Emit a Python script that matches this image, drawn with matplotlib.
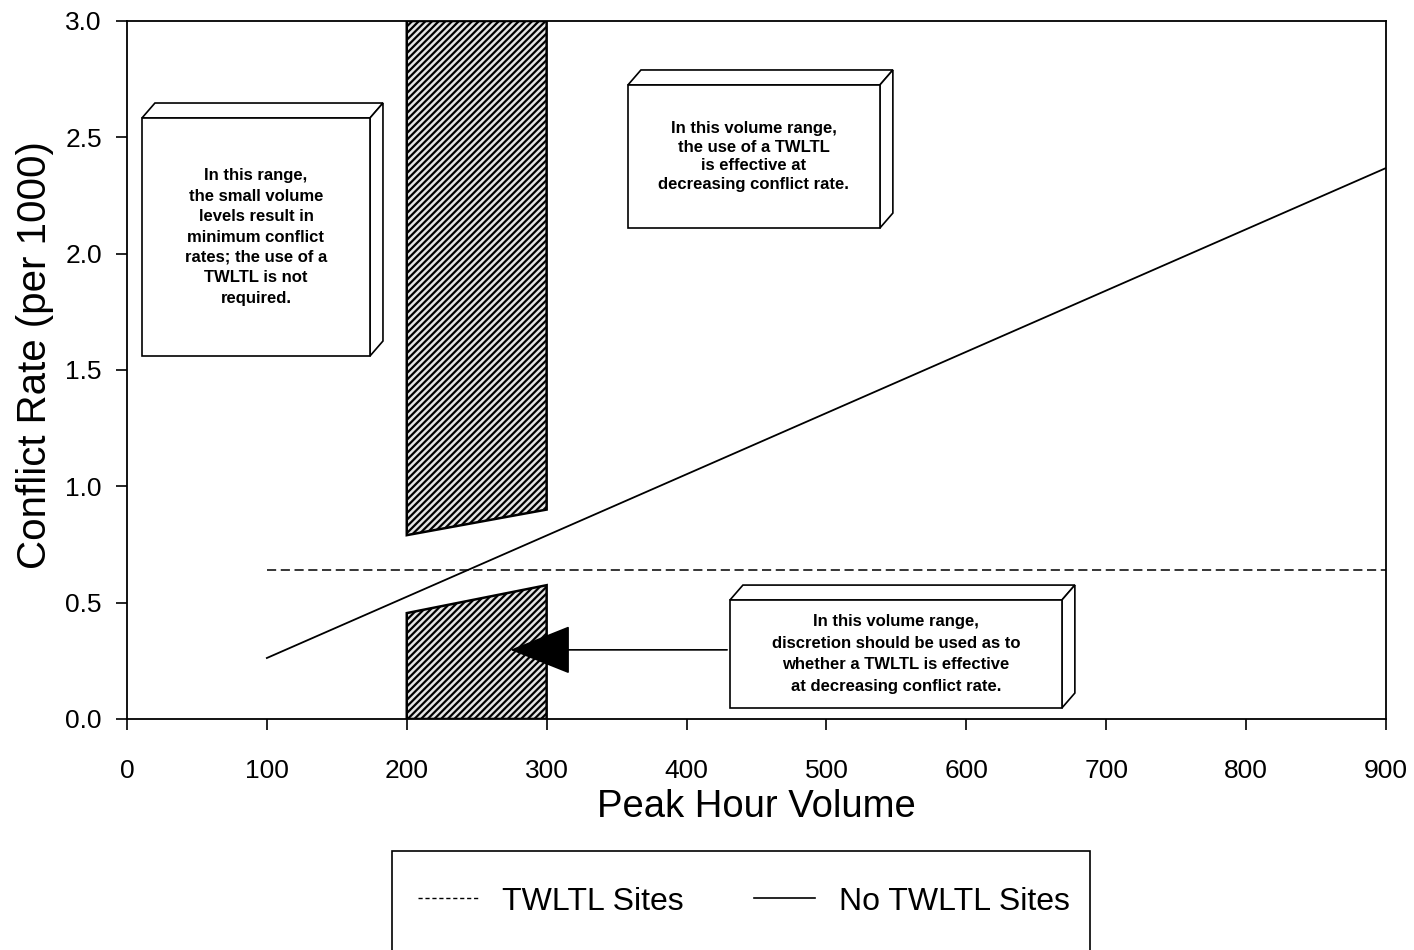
import numpy as np
import matplotlib.pyplot as plt
from matplotlib.patches import Polygon, Rectangle
from matplotlib.lines import Line2D

plt.rcParams['font.family'] = ['Liberation Sans', 'DejaVu Sans']
plt.rcParams['hatch.linewidth'] = 1.6

# regression lines (conflict rate vs peak hour volume)
vol = [100, 900]
rate_twltl = [0.64, 0.64]
rate_no_twltl = [0.262, 2.368]

# shaded ranges
upper_x = [200, 300, 300, 200]
upper_y = [0.79, 0.90, 3.0, 3.0]
lower_x = [200, 300, 300, 200]
lower_y = [0.0, 0.0, 0.575, 0.455]

box_notes = [
    (10.7, 1.56, 173.7, 2.583,
     "In this range,\nthe small volume\nlevels result in\nminimum conflict\nrates; the use of a\nTWLTL is not\nrequired.", 1.45),
    (358.1, 2.11, 538.2, 2.725,
     "In this volume range,\nthe use of a TWLTL\nis effective at\ndecreasing conflict rate.", 1.28),
    (431.0, 0.047, 668.3, 0.511,
     "In this volume range,\ndiscretion should be used as to\nwhether a TWLTL is effective\nat decreasing conflict rate.", 1.55),
]

fig = plt.figure(figsize=(14.14, 9.5), dpi=100)
ax = fig.add_axes([0.0898, 0.2432, 0.8904, 0.7347])
ax.set_xlim(0, 900)
ax.set_ylim(0, 3.0)

ax.plot(vol, rate_twltl, color='black', lw=1.1, ls=(0, (6, 3)))
ax.plot(vol, rate_no_twltl, color='black', lw=1.3)

for xs, ys in [(upper_x, upper_y), (lower_x, lower_y)]:
    ax.add_patch(Polygon(list(zip(xs, ys)), closed=True, facecolor='#e4e4e4',
                         edgecolor='black', hatch='/////', lw=1.8, zorder=2))

# pixel -> data conversion for the 3d box depth
ax_w = 0.8904 * 1414
ax_h = 0.7347 * 950
dpx, dpy = 13, 15
ddx = dpx * 900 / ax_w
ddy = dpy * 3.0 / ax_h

for x0, y0, x1, y1, txt, ls in box_notes:
    top = [(x0, y1), (x1, y1), (x1 + ddx, y1 + ddy), (x0 + ddx, y1 + ddy)]
    side = [(x1, y0), (x1 + ddx, y0 + ddy), (x1 + ddx, y1 + ddy), (x1, y1)]
    for pts in (top, side):
        ax.add_patch(Polygon(pts, closed=True, facecolor='white',
                             edgecolor='black', lw=1.2, zorder=4))
    ax.add_patch(Rectangle((x0, y0), x1 - x0, y1 - y0, facecolor='white',
                           edgecolor='black', lw=1.2, zorder=4))
    ax.text((x0 + x1) / 2, (y0 + y1) / 2, txt, ha='center', va='center',
            fontsize=12, fontweight='bold', linespacing=ls, zorder=5)

ax.annotate('', xy=(272, 0.297), xytext=(431, 0.297),
            arrowprops=dict(arrowstyle='-|>,head_length=4.0,head_width=1.6',
                            color='black', lw=1.2, mutation_scale=10),
            zorder=3)

ax.set_xticks(np.arange(0, 901, 100))
ax.set_yticks(np.arange(0, 3.01, 0.5))
ax.set_yticklabels([f'{v:.1f}' for v in np.arange(0, 3.01, 0.5)])
ax.tick_params(direction='out', length=8, width=1.2, labelsize=19, pad=10)
ax.tick_params(axis='x', pad=21)
for s in ax.spines.values():
    s.set_linewidth(1.3)
ax.set_xlabel('Peak Hour Volume', fontsize=27.5, labelpad=4)
ax.set_ylabel('Conflict Rate (per 1000)', fontsize=29)
ax.yaxis.set_label_coords(-0.058, 0.521)

# legend box
fig.patches.append(Rectangle((0.2772, -0.01), 0.4937, 0.1142, transform=fig.transFigure,
                             facecolor='none', edgecolor='black', lw=1.2))
handles = [Line2D([], [], color='black', lw=1.0, ls=(0, (3, 2))),
           Line2D([], [], color='black', lw=1.2)]
fig.legend(handles, ['TWLTL Sites', 'No TWLTL Sites'], loc='center',
           bbox_to_anchor=(0.526, 0.051), ncol=2, frameon=False, fontsize=23,
           handlelength=1.9, columnspacing=2.2, handletextpad=0.75)

fig.savefig('out.png', dpi=100)
